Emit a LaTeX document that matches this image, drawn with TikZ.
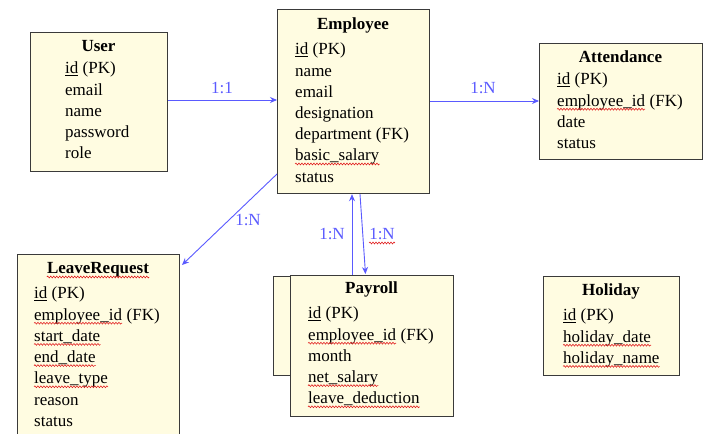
\documentclass[tikz,border=0pt]{standalone}
\usepackage{fontspec}
\setmainfont{Liberation Serif}
\usetikzlibrary{arrows.meta,decorations.pathmorphing}

\definecolor{boxfill}{RGB}{255,252,225}
\definecolor{boxline}{RGB}{58,58,58}
\definecolor{relblue}{RGB}{90,90,255}
\definecolor{spellred}{RGB}{225,30,30}

\tikzset{
  entity/.style={draw=boxline, fill=boxfill, line width=1.2bp, inner sep=0pt,
                 anchor=north west, minimum width=#1},
  etitle/.style={anchor=base, inner sep=0pt, font=\fontsize{17bp}{21bp}\selectfont\bfseries},
  field/.style={anchor=base west, inner sep=0pt, font=\fontsize{17bp}{21bp}\selectfont},
  rel/.style={draw=relblue, line width=0.9bp, -{Stealth[length=7bp,width=6bp]}},
  card/.style={text=relblue, inner sep=0pt, font=\fontsize{17bp}{21bp}\selectfont},
  squig/.style={draw=spellred, line width=0.6bp,
                decorate, decoration={snake, amplitude=0.9bp, segment length=3bp}},
}

\begin{document}
\begin{tikzpicture}[x=1bp, y=-1bp]
\clip (0,0) rectangle (709,434);
\fill[white] (0,0) rectangle (709,434);

% ---- User ----
\node[entity=137bp, minimum height=139bp] (user) at (30,32) {};
\node[etitle] (user-t) at (98.5,52) {User};
\foreach \f [count=\i from 0] in {{\underline{id} (PK)}, email, name, password, role}
  \node[field] (user-\i) at (65,74+21.2*\i) {\f};

% ---- Employee ----
\node[entity=152bp, minimum height=184bp] (employee) at (277,9) {};
\node[etitle] (employee-t) at (353,30) {Employee};
\node[field] (employee-0) at (295,55)    {\underline{id} (PK)};
\node[field] (employee-1) at (295,76.2)  {name};
\node[field] (employee-2) at (295,97.4)  {email};
\node[field] (employee-3) at (295,118.6) {designation};
\node[field] (employee-4) at (295,139.8) {department (FK)};
\node[field] (employee-5) at (295,161)   {basic\_salary};
\node[field] (employee-6) at (295,182.2) {status};

% ---- Attendance ----
\node[entity=163bp, minimum height=116bp] (attendance) at (539,43) {};
\node[etitle] (attendance-t) at (620.5,63) {Attendance};
\node[field] (attendance-0) at (557,85)    {\underline{id} (PK)};
\node[field] (attendance-1) at (557,106.2) {employee\_id};
\node[field] (attendance-1k) at (attendance-1.base east) {\ (FK)};
\node[field] (attendance-2) at (557,127.4) {date};
\node[field] (attendance-3) at (557,148.6) {status};

% ---- LeaveRequest ----
\node[entity=162bp, minimum height=200bp] (leave) at (17,254) {};
\node[etitle] (leave-t) at (98,274) {LeaveRequest};
\node[field] (leave-0) at (34,299)   {\underline{id} (PK)};
\node[field] (leave-1) at (34,320.2) {employee\_id};
\node[field] (leave-1k) at (leave-1.base east) {\ (FK)};
\node[field] (leave-2) at (34,341.4) {start\_date};
\node[field] (leave-3) at (34,362.6) {end\_date};
\node[field] (leave-4) at (34,383.8) {leave\_type};
\node[field] (leave-5) at (34,405)   {reason};
\node[field] (leave-6) at (34,426.2) {status};

% ---- Payroll (with stacked sheet behind) ----
\node[entity=40bp, minimum height=99bp] (payback) at (273,276) {};
\node[entity=163bp, minimum height=141bp] (payroll) at (290,275) {};
\node[etitle] (payroll-t) at (371.5,294) {Payroll};
\node[field] (payroll-0) at (308,319)   {\underline{id} (PK)};
\node[field] (payroll-1) at (308,340.2) {employee\_id};
\node[field] (payroll-1k) at (payroll-1.base east) {\ (FK)};
\node[field] (payroll-2) at (308,361.4) {month};
\node[field] (payroll-3) at (308,382.6) {net\_salary};
\node[field] (payroll-4) at (308,403.8) {leave\_deduction};

% ---- Holiday ----
\node[entity=136bp, minimum height=99bp] (holiday) at (543,276) {};
\node[etitle] (holiday-t) at (611,296) {Holiday};
\node[field] (holiday-0) at (563,321)   {\underline{id} (PK)};
\node[field] (holiday-1) at (563,342.2) {holiday\_date};
\node[field] (holiday-2) at (563,363.4) {holiday\_name};

% ---- relationships ----
\draw[rel] (user.east |- 0,100) -- (employee.west |- 0,100);
\node[card] (c-user) at (222,88) {1:1};

\draw[rel] (employee.east |- 0,101) -- (attendance.west |- 0,101);
\node[card] (c-att) at (483,88) {1:N};

\coordinate (leavetip) at (182,265);
\draw[rel] (employee.west |- 0,174) -- (leavetip);
\node[card] (c-leave) at (248,220) {1:N};

\draw[rel] (352,0 |- payroll.north) -- (352,0 |- employee.south);
\coordinate (paytip) at (365.5,274);
\draw[rel] (360,0 |- employee.south) -- (paytip);
\node[card] (c-pay1) at (332,234) {1:N};
\node[card, anchor=base] (c-pay2) at (382,240) {1:N};

% ---- spell-check marks under flagged words ----
\foreach \n in {employee-5, attendance-1, leave-t, leave-1, leave-2, leave-3, leave-4,
                payroll-1, payroll-3, payroll-4, holiday-1, holiday-2, c-pay2}
  \draw[squig] ([yshift=-3bp]\n.base west) -- ([yshift=-3bp]\n.base east);
\end{tikzpicture}
\end{document}
